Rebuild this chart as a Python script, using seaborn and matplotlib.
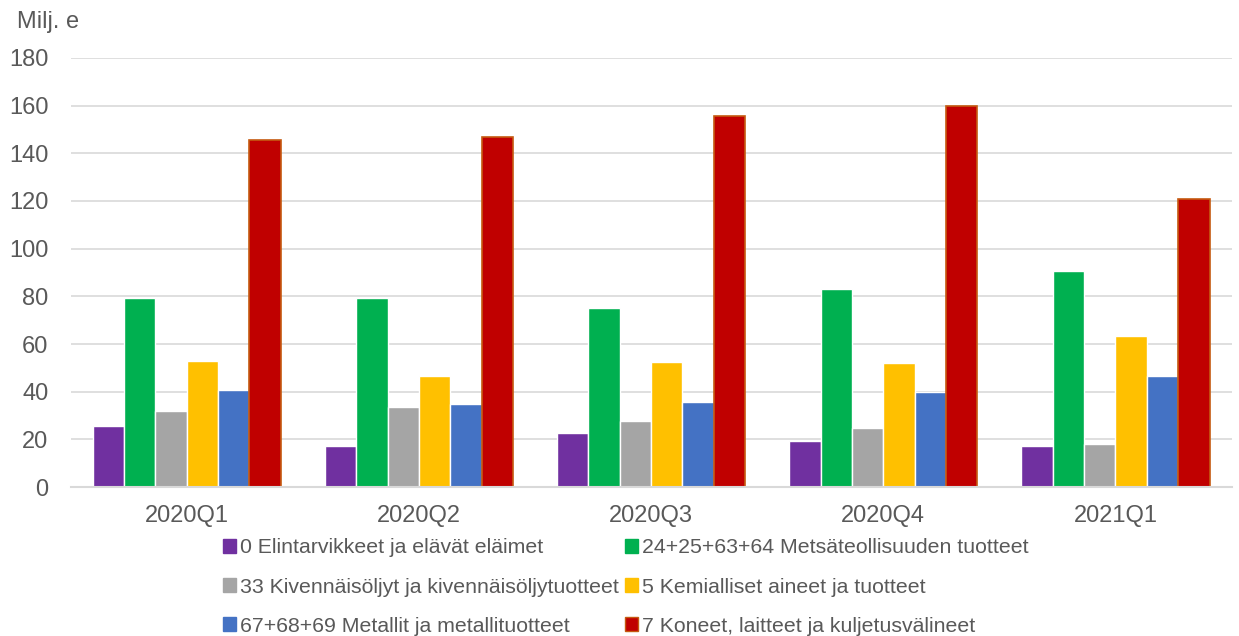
import pandas as pd
import matplotlib.pyplot as plt
import seaborn as sns

# Data
quarters = ["2020Q1", "2020Q2", "2020Q3", "2020Q4", "2021Q1"]
series = [
    "0 Elintarvikkeet ja elävät eläimet",
    "24+25+63+64 Metsäteollisuuden tuotteet",
    "33 Kivennäisöljyt ja kivennäisöljytuotteet",
    "5 Kemialliset aineet ja tuotteet",
    "67+68+69 Metallit ja metallituotteet",
    "7 Koneet, laitteet ja kuljetusvälineet",
]
elintarvikkeet = [25.6, 17.2, 22.7, 19.3, 17.2]
metsa = [79.3, 79.3, 75.1, 83.1, 90.6]
oljyt = [31.9, 33.6, 27.7, 24.8, 18.0]
kemia = [52.9, 46.6, 52.5, 52.0, 63.4]
metallit = [40.7, 34.8, 35.7, 39.9, 46.6]
koneet = [145.6, 146.9, 155.7, 159.9, 120.9]
colors = ["#7030A0", "#00B050", "#A5A5A5", "#FFC000", "#4472C4", "#C00000"]

values = [elintarvikkeet, metsa, oljyt, kemia, metallit, koneet]
rows = []
for s, vals in zip(series, values):
    for q, v in zip(quarters, vals):
        rows.append({"neljännes": q, "sarja": s, "arvo": v})
df = pd.DataFrame(rows)

sns.set_style("white")
plt.rcParams["font.family"] = ["Liberation Sans", "DejaVu Sans"]
txt = "#595959"

fig = plt.figure(figsize=(12.39, 6.36), dpi=100)
ax = fig.add_axes([0.057, 0.234, 0.937, 0.675])

sns.barplot(data=df, x="neljännes", y="arvo", hue="sarja", hue_order=series,
            palette=colors, width=0.81, saturation=1, ax=ax, legend=False)

# punaisille pylväille oranssi reunus
for bar in ax.containers[5]:
    bar.set_edgecolor("#C55A11")
    bar.set_linewidth(1.2)

ax.set_ylim(0, 180)
ax.set_yticks(range(0, 181, 20))
ax.yaxis.grid(True, color="#D9D9D9", linewidth=1.2)
ax.set_axisbelow(True)
for side in ["left", "right", "top"]:
    ax.spines[side].set_visible(False)
ax.spines["bottom"].set_color("#D9D9D9")
ax.spines["bottom"].set_linewidth(1.5)
ax.tick_params(axis="both", length=0, labelsize=17, colors=txt)
ax.tick_params(axis="y", pad=16)
ax.tick_params(axis="x", pad=13)
ax.set_xlabel("")
ax.set_ylabel("")

fig.text(0.014, 0.965, "Milj. e", fontsize=17, color=txt, va="center")

handles = [plt.Rectangle((0, 0), 1, 1, facecolor=c,
                         edgecolor="#C55A11" if i == 5 else c)
           for i, c in enumerate(colors)]
order = [0, 2, 4, 1, 3, 5]
leg = fig.legend([handles[i] for i in order], [series[i] for i in order],
                 ncol=2, loc="center", bbox_to_anchor=(0.505, 0.077),
                 frameon=False, fontsize=15.3, handlelength=0.6, handleheight=0.6,
                 handletextpad=0.2, columnspacing=0.3, labelspacing=0.95,
                 labelcolor=txt)

fig.savefig("out.png", dpi=100)
